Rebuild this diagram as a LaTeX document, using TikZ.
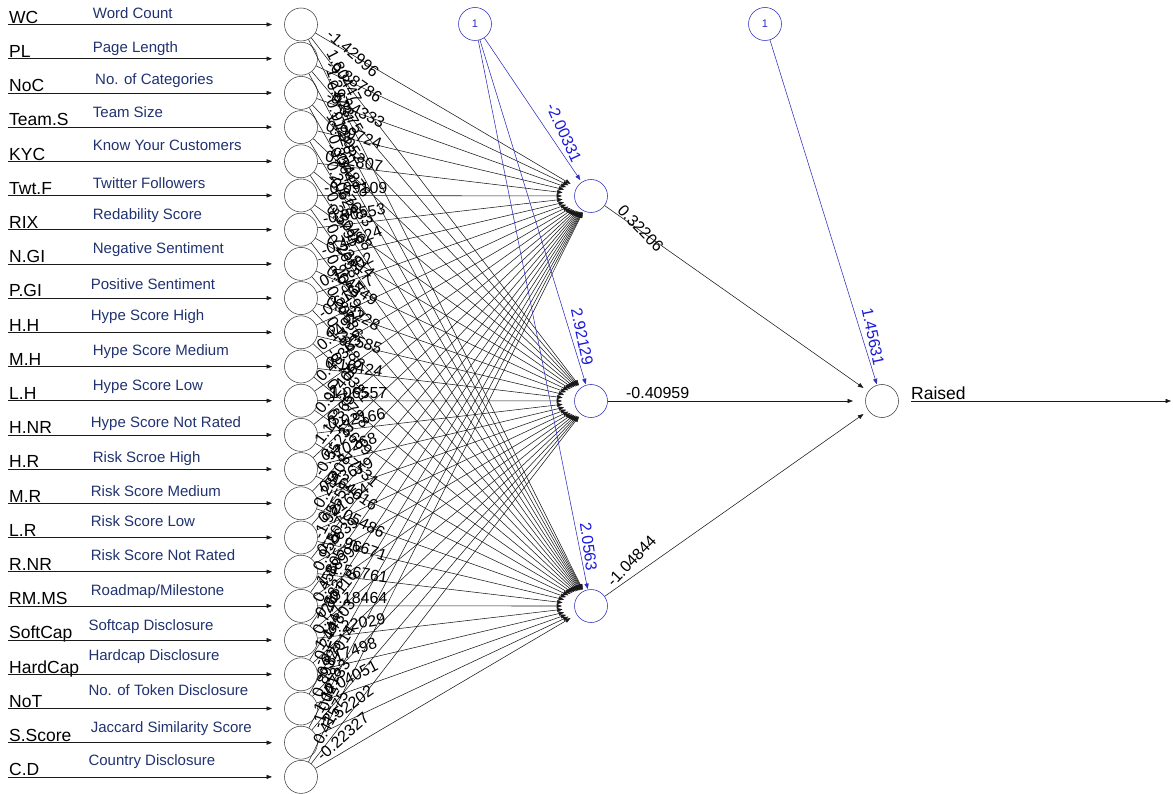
\documentclass[tikz,border=0pt]{standalone}
\usepackage{fontspec}
\setmainfont{Liberation Sans}
\usetikzlibrary{shapes.geometric,arrows.meta,calc}
\definecolor{navy}{RGB}{32,50,112}
\definecolor{nnblue}{RGB}{45,45,190}
\definecolor{wblue}{RGB}{25,25,220}
\definecolor{edgec}{RGB}{25,25,25}
\tikzset{
  neuron/.style={circle, draw=black!75, line width=0.55pt, minimum size=33pt, inner sep=0pt},
  hidneuron/.style={neuron, draw=nnblue},
  biasneuron/.style={neuron, draw=nnblue, text=nnblue, font=\fontsize{11}{13}\selectfont},
  target/.style={ellipse, minimum width=58pt, minimum height=34pt, inner sep=0pt, outer sep=0pt},
  syn/.style={draw=edgec, line width=0.55pt, -{Triangle[length=5.5pt,width=4.2pt]}},
  biassyn/.style={draw=nnblue, line width=0.55pt, -{Triangle[length=5.5pt,width=4.2pt]}},
  wlabel/.style={font=\fontsize{16}{19}\selectfont, text=black, inner xsep=0pt, inner ysep=2pt, text depth=0pt, anchor=south west},
  blabel/.style={wlabel, text=wblue, anchor=south east},
  inname/.style={font=\fontsize{17.5}{21}\selectfont, anchor=base west, inner sep=0pt},
  desc/.style={font=\fontsize{15}{18}\selectfont, text=navy, anchor=base west, inner sep=0pt},
}
\begin{document}
\begin{tikzpicture}[x=1pt,y=-1pt]
\useasboundingbox (0,0) rectangle (1173,794);
% hidden, output and bias neurons
\foreach \j in {1,2,3} {
  \pgfmathsetmacro\yh{205*\j-9}
  \node[hidneuron] (h\j) at (591,\yh) {};
  \node[target] (he\j) at (591,\yh) {};
}
\node[neuron] (o) at (882,401) {};
\node[target] (oe) at (882,401) {};
\node[biasneuron] (b1) at (475,24) {1};
\node[biasneuron] (b2) at (765,24) {1};
% input neurons
\foreach \i/\nm in {0/WC,1/PL,2/NoC,3/Team.S,4/KYC,5/Twt.F,6/RIX,7/N.GI,8/P.GI,9/H.H,10/M.H,11/L.H,12/H.NR,13/H.R,14/M.R,15/L.R,16/R.NR,17/RM.MS,18/SoftCap,19/HardCap,20/NoT,21/S.Score,22/C.D} {
  \pgfmathsetmacro\yy{24.5+34.2*\i}
  \node[neuron] (i\i) at (301,\yy) {};
  \node[target] (ie\i) at (301,\yy) {};
  \coordinate (s\i) at (8,\yy);
  \node[inname] (n\i) at (9,\yy-1.2) {\nm};
}
% descriptions
\foreach \x/\y/\t [count=\k] in {92.7/18.3/{Word Count}, 92.7/52.7/{Page Length}, 95/84.3/{No. of Categories}, 92.7/117.7/{Team Size}, 92.7/150.7/{Know Your Customers}, 92.7/189/{Twitter Followers}, 92.7/220/{Redability Score}, 92.7/253.3/{Negative Sentiment}, 90.7/289.3/{Positive Sentiment}, 90.7/320.7/{Hype Score High}, 92.7/355.7/{Hype Score Medium}, 92.7/390.7/{Hype Score Low}, 90.7/427.7/{Hype Score Not Rated}, 92.7/462.3/{Risk Scroe High}, 90.7/496/{Risk Score Medium}, 90.7/526.7/{Risk Score Low}, 90.7/560/{Risk Score Not Rated}, 90.7/595/{Roadmap/Milestone}, 88.3/630.7/{Softcap Disclosure}, 88.3/660/{Hardcap Disclosure}, 88.3/695.7/{No. of Token Disclosure}, 90.7/732.3/{Jaccard Similarity Score}, 88.3/765.7/{Country Disclosure}}
  \node[desc] (d\k) at (\x,\y) {\t};
% input arrows and synapses
\foreach \i in {0,...,22} {
  \draw[syn] (s\i) -- (ie\i);
  \foreach \j in {1,2,3} { \draw[syn] (i\i) -- (he\j); }
}
% hidden to output
\foreach \j/\w/\f in {1/0.32206/0.0825, 2/-0.40959/0.120, 3/-1.04844/0.0825} {
  \draw[syn] (h\j) -- (oe);
  \pgfmathsetmacro\ang{-atan(1.4773*(401-(205*\j-9))/291)}
  \node[wlabel, rotate=\ang] (v\j) at ($(h\j)!\f!(o)$) {\w};
}
\coordinate (oend) at (1171,401);
\draw[syn] (oe) -- (oend);
\node[inname] (raised) at (911,399.5) {Raised};
% bias synapses
\foreach \j/\w/\f in {1/-2.00331/0.820, 2/2.92129/0.910, 3/2.0563/0.9416} {
  \draw[biassyn] (b1) -- (he\j);
  \pgfmathsetmacro\ang{-atan(1.4773*(205*\j-9-24)/116)}
  \node[blabel, rotate=\ang] (bw\j) at ($(b1)!\f!(h\j)$) {\w};
}
\draw[biassyn] (b2) -- (oe);
\pgfmathsetmacro\angb{-atan(1.4773*377/117)}
\node[blabel, rotate=\angb] (bw4) at ($(b2)!0.910!(o)$) {1.45631};
% input weight labels
\foreach \i/\wa/\wb/\wc in {0/-1.42996/1.80447/1.29731, 1/-0.88786/0.62375/0.91228, 2/-0.84333/1.73052/-0.30647, 3/0.99724/-0.34876/0.20628, 4/0.32807/-0.27683/0.35791, 5/-0.09109/0.50468/0.72653, 6/-0.90553/0.23814/0.40529, 7/-0.45624/0.64549/0.20686, 8/0.13302/0.83228/0.76486, 9/-0.61647/0.37585/-0.70381, 10/0.14922/0.16424/0.70788, 11/0.48363/-1.06557/0.13669, 12/0.92405/-0.02166/-1.77531, 13/1.13365/0.10268/0.64016, 14/-0.55237/0.23679/-0.05486, 15/0.28408/0.21654/-0.96671, 16/-1.95551/0.7639/-1.56761, 17/0.95507/1.88992/-0.18464, 18/0.45805/0.80116/-0.22029, 19/0.72683/1.14803/0.17498, 20/-0.24447/-0.87014/-0.04051, 21/0.89325/1.12733/-2.52202, 22/-1.00418/0.41575/-0.22327} {
  \pgfmathsetmacro\yi{24.5+34.2*\i}
  \foreach \j/\w in {1/\wa,2/\wb,3/\wc} {
    \pgfmathsetmacro\ang{-atan(1.4773*(205*\j-9-\yi)/290)}
    \node[wlabel, rotate=\ang] (w\i-\j) at ($(i\i)!0.0793!(h\j)$) {\w};
  }
}
\end{tikzpicture}
\end{document}
